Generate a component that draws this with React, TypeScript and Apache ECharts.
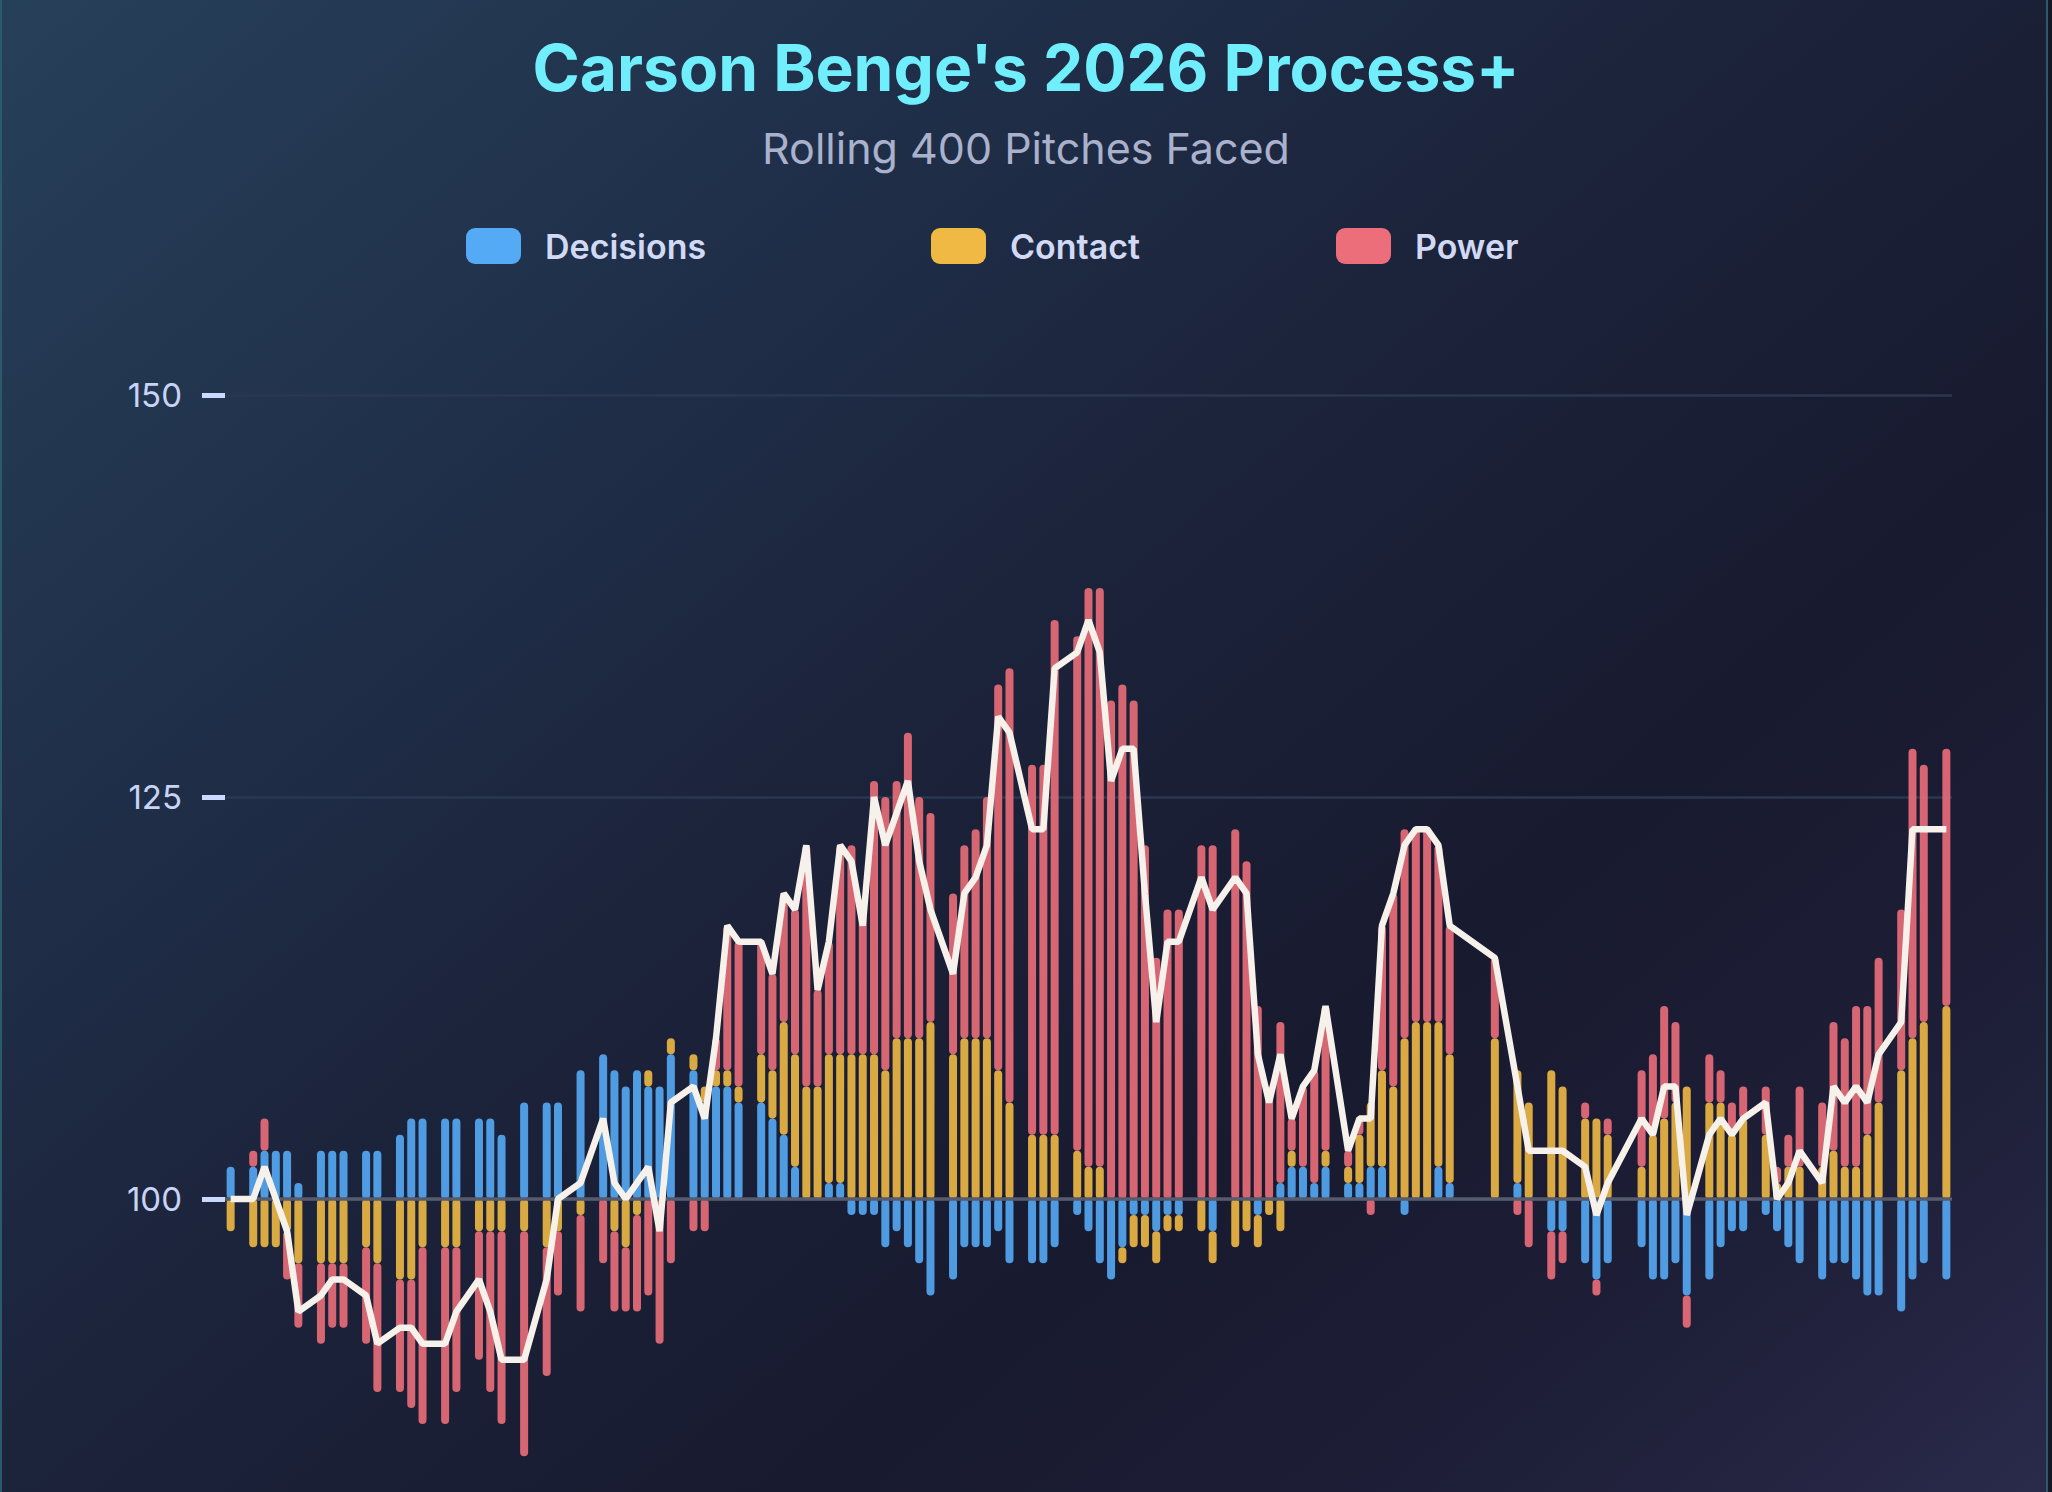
import { useEffect, useRef } from "react";
import * as echarts from "echarts";

// one entry per rolling window; null = no game that day
const decisions = [
  2, null, 2, 3, 3, 3, 1, null, 3, 3,
  3, null, 3, 3, null, 4, 5, 5, null, 5,
  5, null, 5, 5, 4, null, 6, null, 6, 6,
  null, 8, null, 9, 8, 7, 8, 7, 7, 9,
  null, 8, 6, 7, 7, 6, null, 6, 5, 4,
  2, 0, 0, 1, 1, -1, -1, -1, -3, -2,
  -3, -4, -6, null, -5, -3, -3, -3, -2, -4,
  null, -4, -4, -3, null, -1, -2, -4, -5, -3,
  -1, -1, -2, -1, -1, null, 0, -2, null, 0,
  0, -1, 0, 1, 2, 2, 1, 2, null, 1,
  1, 2, 2, 0, -1, 0, 0, 2, 1, null,
  null, null, 0, null, 1, 0, null, -2, -2, null,
  -4, -5, -4, null, null, -3, -5, -5, -4, -6,
  null, -5, -3, -2, -2, null, -1, -2, -3, -4,
  null, -5, -4, -4, -5, -6, -6, null, -7, -5,
  -4, null, -5,
];

const contact = [
  -2, null, -3, -3, -3, -2, -4, null, -4, -4,
  -4, null, -3, -4, null, -5, -5, -3, null, -3,
  -3, null, -2, -2, -2, null, -2, null, -3, -2,
  null, -1, null, 0, -2, -3, -1, 1, 0, 1,
  null, 1, 1, 1, 1, 1, null, 3, 3, 7,
  7, 7, 7, 8, 8, 9, 9, 9, 8, 10,
  10, 10, 11, null, 9, 10, 10, 10, 8, 6,
  null, 4, 4, 4, null, 3, 2, 2, 0, -1,
  -2, -2, -2, -1, -1, null, -2, -2, null, -3,
  -2, -2, -1, -2, 1, 0, 0, 1, null, 1,
  3, 4, 6, 7, 10, 11, 11, 9, 8, null,
  null, null, 10, null, 7, 6, null, 8, 7, null,
  5, 5, 4, null, null, 2, 4, 5, 6, 7,
  null, 6, 6, 4, 5, null, 4, 1, 2, 2,
  null, 2, 3, 2, 2, 4, 6, null, 8, 10,
  11, null, 12,
];

const power = [
  0, null, 1, 2, 0, -3, -4, null, -5, -4,
  -4, null, -6, -8, null, -7, -8, -11, null, -11,
  -9, null, -8, -10, -12, null, -14, null, -8, -4,
  null, -6, null, -4, -5, -4, -6, -6, -9, -4,
  null, -2, -2, 2, 9, 9, null, 7, 6, 8,
  9, 15, 6, 7, 13, 13, 9, 17, 17, 16,
  19, 15, 13, null, 10, 12, 13, 15, 24, 27,
  null, 23, 23, 32, null, 32, 36, 36, 31, 32,
  31, 22, 15, 18, 18, null, 22, 22, null, 23,
  21, 12, 7, 10, 2, 5, 7, 9, null, 1,
  1, -1, 9, 12, 13, 12, 12, 11, 8, null,
  null, null, 5, null, -1, -3, null, -3, -2, null,
  1, -1, 1, null, null, 6, 5, 7, 5, -2,
  null, 3, 2, 2, 2, null, 3, 1, 2, 5,
  null, 4, 8, 8, 10, 8, 9, null, 10, 18,
  16, null, 16,
];

const processPlus = [
  100, null, 100, 102, 100, 98, 93, null, 94, 95,
  95, null, 94, 91, null, 92, 92, 91, null, 91,
  93, null, 95, 93, 90, null, 90, null, 95, 100,
  null, 101, null, 105, 101, 100, 101, 102, 98, 106,
  null, 107, 105, 110, 117, 116, null, 116, 114, 119,
  118, 122, 113, 116, 122, 121, 117, 125, 122, 124,
  126, 121, 118, null, 114, 119, 120, 122, 130, 129,
  null, 123, 123, 133, null, 134, 136, 134, 126, 128,
  128, 119, 111, 116, 116, null, 120, 118, null, 120,
  119, 109, 106, 109, 105, 107, 108, 112, null, 103,
  105, 105, 117, 119, 122, 123, 123, 122, 117, null,
  null, null, 115, null, 107, 103, null, 103, 103, null,
  102, 99, 101, null, null, 105, 104, 107, 107, 99,
  null, 104, 105, 104, 105, null, 106, 100, 101, 103,
  null, 101, 107, 106, 107, 106, 109, null, 111, 123,
  123, null, 123,
];

const yTicks = [150, 125, 100];
const windows = processPlus.map((_, i) => `${i + 1}`);

const BASE = 100;
const FONT = "Inter, 'Noto Sans', sans-serif";

const colors = {
  Decisions: "#55aaf5",
  Contact: "#f0b944",
  Power: "#ec6e7a",
};

export default function App() {
  const chartRef = useRef<HTMLDivElement>(null);

  useEffect(() => {
    if (!chartRef.current) return;
    const chart = echarts.init(chartRef.current, null, { renderer: "svg" });

    const barSeries = (name: keyof typeof colors, data: (number | null)[]) => ({
      name,
      type: "bar",
      stack: "process",
      data,
      barWidth: 8,
      itemStyle: { color: colors[name], opacity: 0.9, borderRadius: 4 },
      emphasis: { disabled: true },
    });

    const legendAt = (name: keyof typeof colors, left: number) => ({
      left,
      top: 228,
      padding: 0,
      itemWidth: 55,
      itemHeight: 36,
      icon: "roundRect",
      data: [{ name, itemStyle: { color: colors[name], opacity: 1 } }],
      textStyle: {
        color: "#d2d9f5",
        fontSize: 34,
        fontWeight: 600,
        fontFamily: FONT,
        padding: [0, 0, 0, 19],
      },
    });

    chart.setOption({
      animation: false,
      backgroundColor: "transparent",
      title: [
        {
          text: "Carson Benge's 2026 Process+",
          left: "center",
          top: 30,
          textStyle: { color: "#70eefc", fontSize: 64, fontWeight: 700, fontFamily: FONT },
        },
        {
          text: "Rolling 400 Pitches Faced",
          left: "center",
          top: 121,
          textStyle: { color: "#a9b1cc", fontSize: 43, fontWeight: 400, fontFamily: FONT },
        },
      ],
      legend: [
        legendAt("Decisions", 466),
        legendAt("Contact", 931),
        legendAt("Power", 1336),
      ],
      grid: { left: 225, right: 100, top: 395, bottom: 99 },
      xAxis: {
        type: "category",
        data: windows,
        boundaryGap: true,
        axisLine: { show: false },
        axisTick: { show: false },
        axisLabel: { show: false },
        splitLine: { show: false },
      },
      yAxis: {
        type: "value",
        min: -25,
        max: 50,
        interval: 25,
        axisLine: { show: false },
        axisTick: { show: true, length: 23, lineStyle: { color: "#ccd8ff", width: 5 } },
        axisLabel: {
          color: "#c8d3f5",
          fontSize: 33,
          fontFamily: FONT,
          margin: 43,
          formatter: (v: number) => (yTicks.includes(v + BASE) ? String(v + BASE) : ""),
        },
        splitLine: { lineStyle: { color: "#2a3750", width: 2.5 } },
      },
      series: [
        barSeries("Decisions", decisions),
        barSeries("Contact", contact),
        {
          ...barSeries("Power", power),
          markLine: {
            silent: true,
            symbol: "none",
            label: { show: false },
            lineStyle: { color: "#565b6e", width: 3.5, type: "solid" },
            data: [{ yAxis: 0 }],
          },
        },
        {
          name: "Process+",
          type: "line",
          data: processPlus.map((v) => (v == null ? null : v - BASE)),
          connectNulls: true,
          showSymbol: false,
          symbol: "none",
          z: 5,
          lineStyle: { color: "#f6f1ea", width: 6.5 },
          emphasis: { disabled: true },
        },
      ],
    });

    return () => chart.dispose();
  }, []);

  return (
    <div
      style={{
        position: "fixed",
        left: 0,
        top: 0,
        width: 2052,
        height: 1492,
        overflow: "hidden",
        background:
          "linear-gradient(140deg, #27405a 0%, #20304a 25%, #1b2239 48%, #181a2f 68%, #1e1f38 85%, #2a2a4b 100%)",
      }}
    >
      <div ref={chartRef} style={{ position: "absolute", left: 0, top: 0, width: 2052, height: 1700 }} />
      <div style={{ position: "absolute", left: 0, top: 0, width: 2, height: 1492, background: "#2b5a6b" }} />
      <div style={{ position: "absolute", left: 2046, top: 0, width: 2, height: 1492, background: "#2b5a6b" }} />
      <div style={{ position: "absolute", left: 2048, top: 0, width: 4, height: 1492, background: "#161828" }} />
    </div>
  );
}
